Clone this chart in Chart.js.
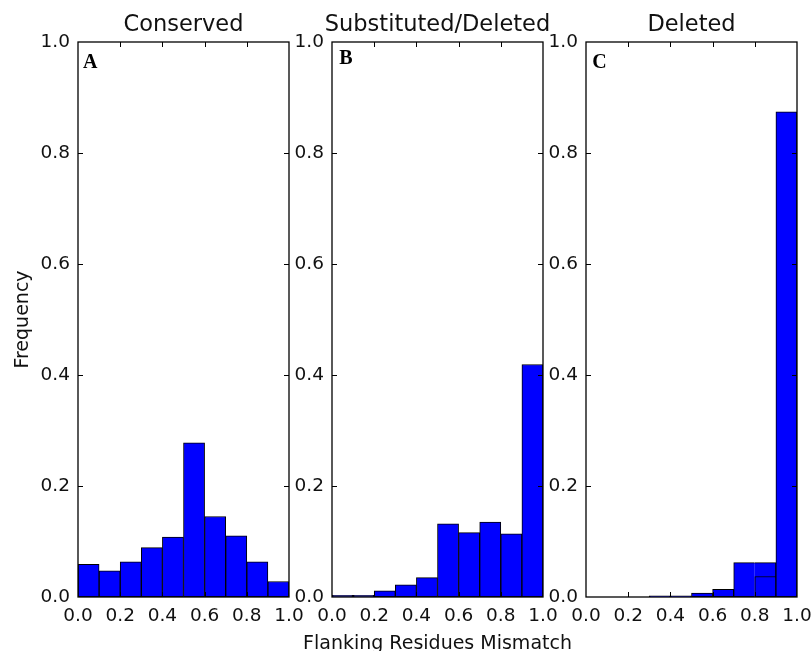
<!DOCTYPE html>
<html>
<head>
<meta charset="utf-8">
<title>Flanking Residues Mismatch</title>
<script src="https://cdn.jsdelivr.net/npm/chart.js@4.4.1/dist/chart.umd.min.js"></script>
<style>
html, body { margin: 0; padding: 0; background: #fff; overflow: hidden; }
#wrap { position: relative; width: 812px; height: 651px; }
#wrap canvas { position: absolute; top: 0; }
</style>
</head>
<body>
<div id="wrap">
	<canvas id="chartA"></canvas>
	<canvas id="chartB"></canvas>
	<canvas id="chartC"></canvas>
</div>
<script>
// histogram bins (centres of 0.1 wide bins)
var binCenters = [0.05, 0.15, 0.25, 0.35, 0.45, 0.55, 0.65, 0.75, 0.85, 0.95];
var conserved = [0.059, 0.047, 0.0635, 0.089, 0.108, 0.278, 0.145, 0.110, 0.0635, 0.028];
var substituted = [0.003, 0.003, 0.011, 0.022, 0.035, 0.132, 0.116, 0.135, 0.114, 0.419];
var deleted = [0, 0, 0, 0.002, 0.002, 0.007, 0.014, 0.062, 0.037, 0.874];
// the 0.7 bar of "Deleted" runs on over the 0.8 bin
var deletedSpill = [null, null, null, null, null, null, null, null, 0.062, null];
var panelTitles = ["Conserved", "Substituted/Deleted", "Deleted"];
var panelLetters = ["A", "B", "C"];

var M = 75;
var plotBottom = 597;
var plotWidth = 211;
var panelLeft = [78, 332, 586];
var letterPos = [[5, 26.3], [7.3, 22.3], [6.3, 25.8]];
var xlabelBox = 18.8;
var textColor = "#111";

Chart.defaults.font.family = "'DejaVu Sans', sans-serif";

function toPoints(values) {
	var pts = [];
	for (var i = 0; i < values.length; i++) {
		pts.push({ x: binCenters[i], y: values[i] });
	}
	return pts;
}

// box round the axes, inward ticks and the panel letter
var framePlugin = {
	id: "frame",
	afterDraw: function(chart, args, opts) {
		var ctx = chart.ctx;
		var a = chart.chartArea;
		var xs = chart.scales.x;
		var ys = chart.scales.y;
		ctx.save();
		ctx.strokeStyle = "#000";
		ctx.lineWidth = 1;
		ctx.beginPath();
		xs.ticks.forEach(function(t) {
			if (t.value <= xs.min || t.value >= xs.max) return;
			var px = Math.round(xs.getPixelForValue(t.value)) + 0.5;
			ctx.moveTo(px, a.bottom);
			ctx.lineTo(px, a.bottom - 5);
			ctx.moveTo(px, a.top);
			ctx.lineTo(px, a.top + 5);
		});
		ys.ticks.forEach(function(t) {
			if (t.value <= ys.min || t.value >= ys.max) return;
			var py = Math.round(ys.getPixelForValue(t.value)) + 0.5;
			ctx.moveTo(a.left, py);
			ctx.lineTo(a.left + 5, py);
			ctx.moveTo(a.right, py);
			ctx.lineTo(a.right - 5, py);
		});
		ctx.stroke();
		ctx.lineWidth = 1.3;
		ctx.strokeRect(a.left, a.top, a.right - a.left, a.bottom - a.top);
		ctx.font = "bold 20px 'Liberation Serif', serif";
		ctx.fillStyle = "#000";
		ctx.textBaseline = "alphabetic";
		ctx.fillText(opts.letter, a.left + opts.dx, a.top + opts.dy);
		ctx.restore();
	}
};

function barSet(values, border) {
	return {
		data: toPoints(values),
		backgroundColor: "#0000ff",
		borderColor: "#000",
		borderWidth: border,
		borderSkipped: false,
		grouped: false,
		barPercentage: 1,
		categoryPercentage: 1
	};
}

function makeChart(id, idx, datasets) {
	var canvas = document.getElementById(id);
	canvas.width = plotWidth + 2 * M;
	canvas.height = 651;
	canvas.style.left = (panelLeft[idx] - M) + "px";
	var hasXLabel = idx == 1;
	return new Chart(canvas.getContext("2d"), {
		type: "bar",
		data: { datasets: datasets },
		plugins: [framePlugin],
		options: {
			responsive: false,
			animation: false,
			events: [],
			layout: { padding: 0 },
			plugins: {
				legend: { display: false },
				tooltip: { enabled: false },
				title: {
					display: true,
					text: panelTitles[idx],
					color: textColor,
					font: { size: 22.5, weight: "normal" },
					padding: { top: 12, bottom: 3 }
				},
				subtitle: {
					display: hasXLabel,
					position: "bottom",
					text: "Flanking Residues Mismatch",
					color: textColor,
					font: { size: 19 },
					padding: { top: 0, bottom: -4 }
				},
				frame: { letter: panelLetters[idx], dx: letterPos[idx][0], dy: letterPos[idx][1] }
			},
			scales: {
				x: {
					type: "linear",
					min: 0,
					max: 1,
					offset: false,
					grid: { display: false, drawTicks: false },
					border: { display: false },
					ticks: {
						stepSize: 0.2,
						padding: 8,
						maxRotation: 0,
						autoSkip: false,
						color: textColor,
						font: { size: 18.5 },
						callback: function(v) { return v.toFixed(1); }
					},
					afterFit: function(s) {
						s.height = 651 - plotBottom - (hasXLabel ? xlabelBox : 0);
					}
				},
				y: {
					min: 0,
					max: 1,
					grid: { display: false, drawTicks: false },
					border: { display: false },
					ticks: {
						stepSize: 0.2,
						padding: 8,
						color: textColor,
						font: { size: 18.5 },
						callback: function(v) { return v.toFixed(1); }
					},
					title: {
						display: idx == 0,
						text: "Frequency",
						color: textColor,
						font: { size: 19 },
						padding: { top: 8.5, bottom: 0 }
					},
					afterFit: function(s) { s.width = M; }
				},
				// empty right strip so the title sits centred over the plot
				yRight: {
					position: "right",
					grid: { display: false, drawTicks: false },
					border: { display: false },
					ticks: { display: false },
					afterFit: function(s) { s.width = M; }
				}
			}
		}
	});
}

makeChart("chartA", 0, [barSet(conserved, 1)]);
makeChart("chartB", 1, [barSet(substituted, 1)]);

var deletedMain = barSet(deleted, function(c) {
	if (deletedSpill[c.dataIndex + 1] != null) {
		return { top: 1, left: 1, bottom: 1, right: 0 };
	}
	return 1;
});
var deletedBack = barSet(deletedSpill, { top: 1, left: 0, bottom: 1, right: 1 });
makeChart("chartC", 2, [deletedMain, deletedBack]);
</script>
</body>
</html>
